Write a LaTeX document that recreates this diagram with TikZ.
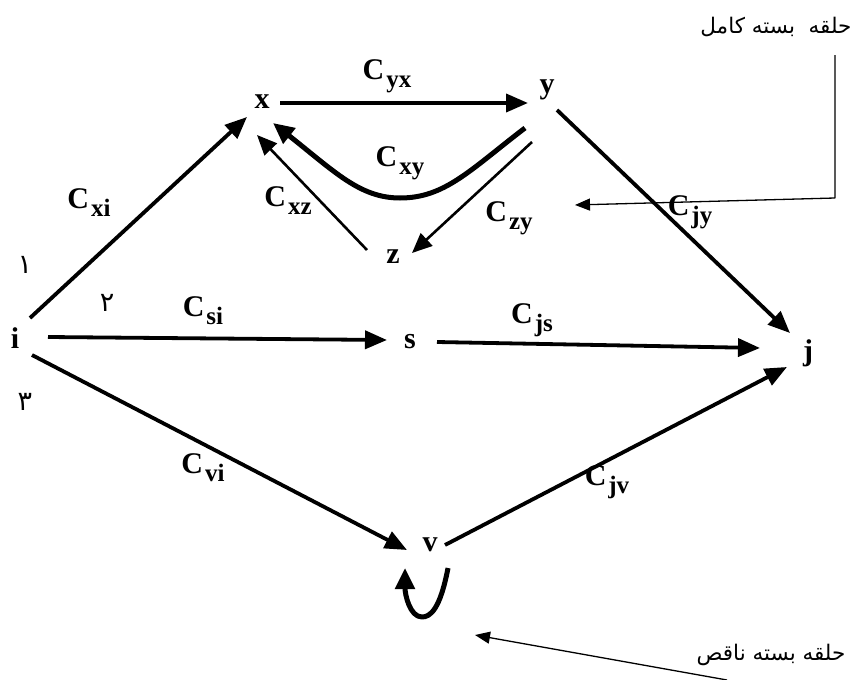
\documentclass[tikz,border=0pt]{standalone}
\usepackage{fontspec}
\setmainfont{Liberation Serif}
\newfontfamily\arabicfont[Script=Arabic]{DejaVu Sans}
\TeXXeTstate=1
\usepackage{tikz}
\usetikzlibrary{
  arrows.meta,   % Triangle 箭头
  calc           % 相对节点中心的偏移
}
\tikzset{
  vertex/.style={
    font=\fontsize{30}{30}\selectfont\bfseries,
    inner sep=0pt
  },
  cost label/.style={
    font=\fontsize{30}{30}\selectfont\bfseries,
    inner sep=0pt
  },
  flow/.style={
    -{Triangle[length=22pt,width=18pt]},
    line width=3.8pt
  },
  thin flow/.style={
    -{Triangle[length=20pt,width=17pt]},
    line width=2.6pt
  },
  loop flow/.style={
    -{Triangle[length=21pt,width=19pt]},
    line width=5pt
  },
  callout/.style={
    -{Triangle[length=15pt,width=12pt]},
    line width=1.3pt
  },
  note/.style={
    font=\arabicfont\fontsize{21.5}{21.5}\selectfont,
    inner sep=0pt
  },
  digit/.style={
    font=\arabicfont\fontsize{27}{27}\selectfont,
    inner sep=0pt
  }
}
\newcommand{\cost}[1]{C\kern2pt\raisebox{-8pt}{\fontsize{25}{25}\selectfont #1}}

\begin{document}
\begin{tikzpicture}[x=1pt, y=-1pt, line join=round]
    \useasboundingbox (0,0) rectangle (855,680);

    % 1. 顶点
    \node[vertex] (x) at (262,102) {x};
    \node[vertex] (y) at (547,90) {y};
    \node[vertex] (z) at (393,257) {z};
    \node[vertex] (i) at (15,338) {i};
    \node[vertex] (s) at (410,342) {s};
    \node[vertex] (j) at (808,353) {j};
    \node[vertex] (v) at (430,545) {v};

    % 2. 费用标注
    \node[cost label] (cyx) at (387,76) {\cost{yx}};
    \node[cost label] (cxy) at (400,163) {\cost{xy}};
    \node[cost label] (cxz) at (288,201) {\cost{xz}};
    \node[cost label] (czy) at (509,218) {\cost{zy}};
    \node[cost label] (cxi) at (89,203) {\cost{xi}};
    \node[cost label] (csi) at (203,311) {\cost{si}};
    \node[cost label] (cjs) at (532,320) {\cost{js}};
    \node[cost label] (cjy) at (690,212) {\cost{jy}};
    \node[cost label] (cvi) at (203,468) {\cost{vi}};
    \node[cost label] (cjv) at (607,482) {\cost{jv}};

    % 3. 路径编号
    \node[digit] (d1) at (25,265) {۱};
    \node[digit] (d2) at (107,303) {۲};
    \node[digit] (d3) at (25,402) {۳};

    % 4. 弧
    \draw[flow] ($(i)+(15,-20)$) -- ($(x)+(-15,15)$);
    \draw[flow] ($(x)+(18,1)$) -- ($(y)+(-19,13)$);
    \draw[loop flow] ($(y)+(-22,38)$)
      .. controls (470,170) and (445,198) .. (400,198)
      .. controls (360,198) and (335,172) .. ($(x)+(11,21)$);
    \draw[thin flow] ($(z)+(-26,-7)$) -- ($(x)+(-5,33)$);
    \draw[thin flow] ($(y)+(-15,52)$) -- ($(z)+(19,-4)$);
    \draw[flow] ($(y)+(10,20)$) -- ($(j)+(-18,-20)$);
    \draw[flow] ($(i)+(33,-1)$) -- ($(s)+(-23,-2)$);
    \draw[flow] ($(s)+(27,0)$) -- ($(j)+(-48,-5)$);
    \draw[flow] ($(i)+(17,17)$) -- ($(v)+(-23,5)$);
    \draw[flow] ($(v)+(15,0)$) -- ($(j)+(-21,14)$);

    % v 处的自环
    \draw[loop flow] ($(v)+(18,23)$)
      .. controls ($(v)+(10,65)$) and ($(v)+(0,72)$) .. ($(v)+(-8,72)$)
      .. controls ($(v)+(-20,72)$) and ($(v)+(-25,50)$) .. ($(v)+(-25,23)$);

    % 5. 说明文字与指示线
    \node[note] (complete) at (776,27) {\beginR حلقه\ \ بسته کامل\endR};
    \coordinate (completestart) at (835,55);
    \coordinate (completebend) at (835,198);
    \coordinate (completetip) at (575,205);
    \draw[callout] (completestart) -- (completebend) -- (completetip);

    \node[note] (partial) at (771,655) {\beginR حلقه بسته ناقص\endR};
    \coordinate (partialstart) at (727,680);
    \coordinate (partialtip) at (475,635);
    \draw[callout] (partialstart) -- (partialtip);

\end{tikzpicture}
\end{document}
